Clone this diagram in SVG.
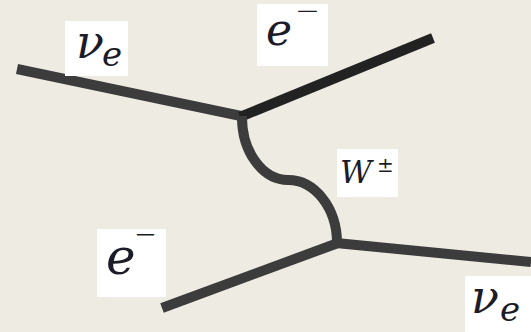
<svg xmlns="http://www.w3.org/2000/svg" width="531" height="332" viewBox="0 0 531 332">
<style>
.ln{stroke:#3c3c3c;stroke-width:10;fill:none;stroke-linecap:butt;stroke-linejoin:miter}
.dk{stroke:#222}
.box{fill:#ffffff}
text{font-family:'DejaVu Serif',serif;fill:#1c1c28}
.m{font-style:italic}
.u{font-style:normal}
</style>
<rect width="531" height="332" fill="#eeebe3"/>
<g id="connectors">
<path class="ln" d="M17,69 L241,116"/>
<path class="ln dk" d="M240,117 L433,38"/>
<path class="ln" d="M242,116 A46,63 0 0 0 288,180 A49,63 0 0 1 337,243"/>
<path class="ln" d="M162,308 L338,243"/>
<path class="ln" d="M336,243 L531,262"/>
</g>
<g id="nu-e-in">
<rect class="box" x="65" y="21" width="63" height="55"/>
<text class="m" x="76" y="58" font-size="46">ν<tspan x="102" y="66" font-size="34">e</tspan></text>
</g>
<g id="e-out">
<rect class="box" x="257" y="4" width="71" height="62"/>
<text class="m" x="266" y="45" font-size="44">e<tspan class="u" x="295" y="16.5" font-size="18" textLength="25" lengthAdjust="spacingAndGlyphs">−</tspan></text>
</g>
<g id="w-boson">
<rect class="box" x="337" y="149" width="61" height="48"/>
<text class="m" x="340" y="183" font-size="31">W<tspan class="u" x="377" y="172" font-size="20">±</tspan></text>
</g>
<g id="e-in">
<rect class="box" x="97" y="229" width="69" height="68"/>
<text class="m" x="106" y="274" font-size="50">e<tspan class="u" x="134" y="241" font-size="20" textLength="23" lengthAdjust="spacingAndGlyphs">−</tspan></text>
</g>
<g id="nu-e-out">
<rect class="box" x="465" y="276" width="66" height="56"/>
<text class="m" x="471" y="313" font-size="46">ν<tspan x="500" y="321" font-size="34">e</tspan></text>
</g>
</svg>
